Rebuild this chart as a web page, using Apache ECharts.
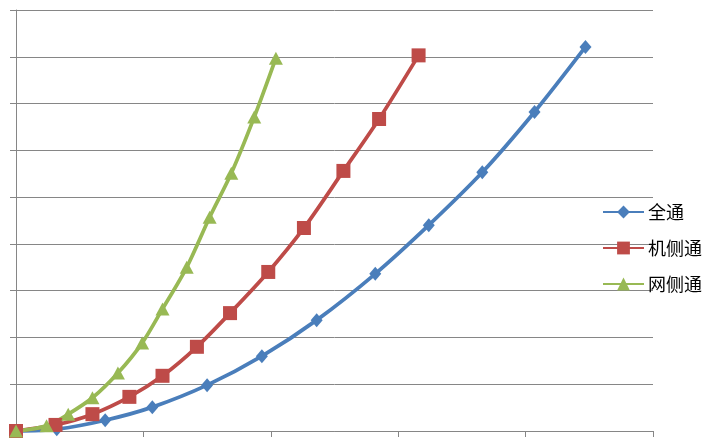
<!DOCTYPE html>
<html>
<head>
<meta charset="utf-8">
<script src="https://cdn.jsdelivr.net/npm/echarts@6/dist/echarts.min.js"></script>
<style>
html,body{margin:0;padding:0;background:#fff;}
#chart{width:711px;height:445px;}
</style>
</head>
<body>
<div id="chart"></div>
<script>
var seriesNames = ['全通', '机侧通', '网侧通'];

var quanX = [0, 3.2, 7.0, 10.7, 15.0, 19.3, 23.6, 28.2, 32.4, 36.6, 40.7, 44.7];
var quanY = [0, 0.4, 2.3, 5.1, 9.8, 16.0, 23.7, 33.6, 44.0, 55.3, 68.2, 82.1];

var jiX = [0, 3.1, 6.0, 8.9, 11.5, 14.2, 16.8, 19.8, 22.6, 25.7, 28.5, 31.6];
var jiY = [0, 1.3, 3.6, 7.3, 11.8, 18.0, 25.2, 34.0, 43.4, 55.6, 66.7, 80.3];

var wangX = [0, 2.4, 4.1, 6.0, 8.0, 9.9, 11.5, 13.4, 15.2, 16.9, 18.7, 20.4];
var wangY = [0, 1.1, 3.6, 7.1, 12.4, 18.8, 26.1, 35.0, 45.7, 55.1, 67.1, 79.7];

function zip(a, b) { return a.map(function (v, i) { return [v, b[i]]; }); }

var colors = ['#4A7EBB', '#BE4B48', '#98B954'];
var gridColor = '#868686';

var chart = echarts.init(document.getElementById('chart'), null, {renderer: 'canvas'});
chart.setOption({
  animation: false,
  color: colors,
  grid: {left: 16, top: 10, right: 58, bottom: 14, containLabel: false},
  xAxis: {
    type: 'value', min: 0, max: 50, interval: 10,
    axisLine: {show: true, lineStyle: {color: gridColor, width: 1}},
    axisTick: {show: true, length: 6, inside: false, lineStyle: {color: gridColor}},
    axisLabel: {show: false},
    splitLine: {show: false}
  },
  yAxis: {
    type: 'value', min: 0, max: 90, interval: 10,
    axisLine: {show: true, lineStyle: {color: gridColor, width: 1}},
    axisTick: {show: true, length: 6, lineStyle: {color: gridColor}},
    axisLabel: {show: false},
    splitLine: {show: true, lineStyle: {color: gridColor, width: 1}}
  },
  legend: {
    orient: 'vertical',
    left: 602, top: 203, padding: 0,
    itemWidth: 41, itemHeight: 16, itemGap: 18,
    textStyle: {fontFamily: 'Noto Sans CJK SC', fontSize: 18, color: '#000', padding: [0, 0, 0, -1]},
    data: seriesNames
  },
  series: [
    {name: seriesNames[0], type: 'line', smooth: 0.3, data: zip(quanX, quanY),
     symbol: 'diamond', symbolSize: [12, 14],
     lineStyle: {width: 3.75, color: colors[0]}, itemStyle: {color: colors[0]}},
    {name: seriesNames[1], type: 'line', smooth: 0.3, data: zip(jiX, jiY),
     symbol: 'rect', symbolSize: 14,
     lineStyle: {width: 3.75, color: colors[1]}, itemStyle: {color: colors[1]}},
    {name: seriesNames[2], type: 'line', smooth: 0.3, data: zip(wangX, wangY),
     symbol: 'triangle', symbolSize: [14, 13],
     lineStyle: {width: 3.75, color: colors[2]}, itemStyle: {color: colors[2]}}
  ]
});
</script>
</body>
</html>
